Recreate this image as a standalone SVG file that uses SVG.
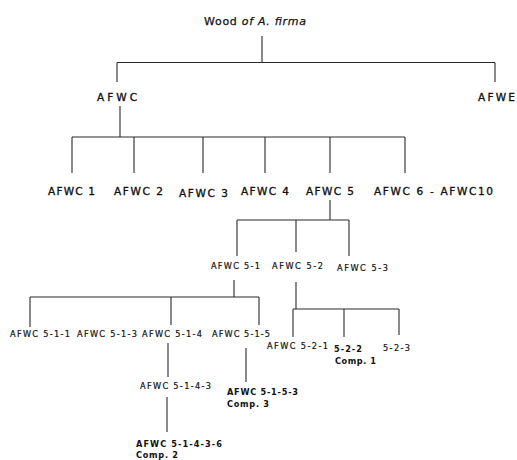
<svg xmlns="http://www.w3.org/2000/svg" width="517" height="460" viewBox="0 0 517 460">
<style>
.l{stroke:#2a2a2a;stroke-width:1.1;fill:none}
text{font-family:"DejaVu Sans","Liberation Sans",Arial,sans-serif;fill:#111}
.t1{font-size:11px;stroke:#111;stroke-width:0.25}
.t2{font-size:10.5px;stroke:#111;stroke-width:0.35}
.t3{font-size:8.2px;stroke:#111;stroke-width:0.2}
.b{font-size:8.2px;font-weight:bold}
</style>
<rect width="517" height="460" fill="#fff"/>
<g id="connectors">
<path class="l" d="M262 36V62.5M117 62.5H495M117 62.5V82M495 62.5V82"/>
<path class="l" d="M120 106V137M72 137H405M72 137V173M134 137V173M203 137V173M265 137V173M330 137V173M405 137V173"/>
<path class="l" d="M330 200V220M237 220H349M237 220V256M296 220V252M349 220V256"/>
<path class="l" d="M234 280V297M30 297H259M30 297V327M171 297V325M259 297V325"/>
<path class="l" d="M296 282V309M293 309H399M293 309V337M344 309V337M399 309V335"/>
<path class="l" d="M168 343V377M167 397V432M246 348V382"/>
</g>
<g id="root"><text class="t1" x="204" y="25" textLength="102" lengthAdjust="spacing">Wood <tspan font-style="italic">of A. firma</tspan></text></g>
<g id="AFWC"><text class="t2" x="97" y="101" textLength="40" lengthAdjust="spacing">AFWC</text></g>
<g id="AFWE"><text class="t2" x="478" y="101" textLength="37" lengthAdjust="spacing">AFWE</text></g>
<g id="AFWC1"><text class="t2" x="48" y="195" textLength="47" lengthAdjust="spacing">AFWC 1</text></g>
<g id="AFWC2"><text class="t2" x="114" y="195" textLength="49" lengthAdjust="spacing">AFWC 2</text></g>
<g id="AFWC3"><text class="t2" x="179" y="197" textLength="49" lengthAdjust="spacing">AFWC 3</text></g>
<g id="AFWC4"><text class="t2" x="241" y="195" textLength="48" lengthAdjust="spacing">AFWC 4</text></g>
<g id="AFWC5"><text class="t2" x="306" y="195" textLength="48" lengthAdjust="spacing">AFWC 5</text></g>
<g id="AFWC6-10"><text class="t2" x="374" y="195" textLength="119" lengthAdjust="spacing">AFWC 6 -  AFWC10</text></g>
<g id="AFWC5-1"><text class="t3" x="211" y="269" textLength="49" lengthAdjust="spacing">AFWC 5-1</text></g>
<g id="AFWC5-2"><text class="t3" x="272" y="269" textLength="51" lengthAdjust="spacing">AFWC 5-2</text></g>
<g id="AFWC5-3"><text class="t3" x="337" y="271" textLength="51" lengthAdjust="spacing">AFWC 5-3</text></g>
<g id="AFWC5-1-1"><text class="t3" x="10" y="337" textLength="60" lengthAdjust="spacing">AFWC 5-1-1</text></g>
<g id="AFWC5-1-3"><text class="t3" x="77" y="337" textLength="60" lengthAdjust="spacing">AFWC 5-1-3</text></g>
<g id="AFWC5-1-4"><text class="t3" x="142" y="337" textLength="60" lengthAdjust="spacing">AFWC 5-1-4</text></g>
<g id="AFWC5-1-5"><text class="t3" x="212" y="337" textLength="58" lengthAdjust="spacing">AFWC 5-1-5</text></g>
<g id="AFWC5-2-1"><text class="t3" x="267" y="349" textLength="61" lengthAdjust="spacing">AFWC 5-2-1</text></g>
<g id="n5-2-2"><text class="b" x="334" y="352" textLength="28" lengthAdjust="spacing">5-2-2</text><text class="b" x="335" y="364" textLength="41" lengthAdjust="spacing">Comp. 1</text></g>
<g id="n5-2-3"><text class="t3" x="383" y="351" textLength="27" lengthAdjust="spacing">5-2-3</text></g>
<g id="AFWC5-1-4-3"><text class="t3" x="140" y="389" textLength="71" lengthAdjust="spacing">AFWC 5-1-4-3</text></g>
<g id="AFWC5-1-5-3"><text class="b" x="227" y="395" textLength="71" lengthAdjust="spacing">AFWC 5-1-5-3</text><text class="b" x="227" y="407" textLength="42" lengthAdjust="spacing">Comp. 3</text></g>
<g id="AFWC5-1-4-3-6"><text class="b" x="136" y="447" textLength="86" lengthAdjust="spacing">AFWC 5-1-4-3-6</text><text class="b" x="136" y="458" textLength="42" lengthAdjust="spacing">Comp. 2</text></g>
</svg>
